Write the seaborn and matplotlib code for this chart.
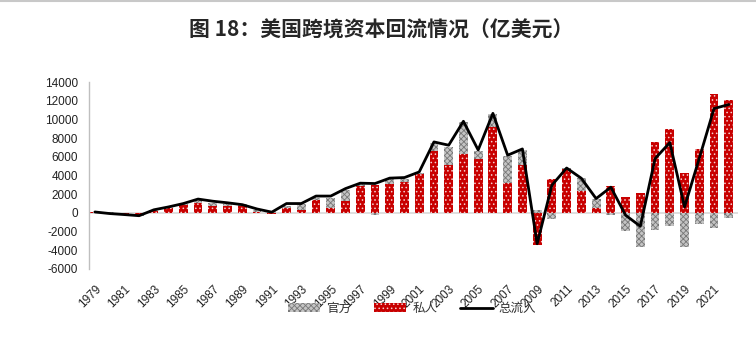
import numpy as np
import pandas as pd
import matplotlib
matplotlib.use("Agg")
import matplotlib.pyplot as plt
from matplotlib.lines import Line2D
import seaborn as sns

years = list(range(1979, 2023))
private = [50, -150, -100, -250, 250, 500, 800, 1100, 700, 700, 700, 50, -100, 550,
           300, 1430, 570, 1250, 2920, 2960, 3140, 3320, 4210, 6630, 5170, 6350, 5780,
           9200, 3210, 5170, -3460, 3600, 4650, 2350, 500, 2850, 1710, 2170, 7560,
           8930, 4280, 6790, 12690, 12050]
official = [50, 60, -50, -50, 50, 80, 150, 250, 400, 300, 200, 250, 150, 200,
            600, 200, 1070, 1250, 150, -250, 460, 300, 50, 860, 1890, 3390, 860,
            1430, 2850, 1600, 290, -610, 200, 1350, 960, -180, -1960, -3640, -1780,
            -1350, -3640, -1200, -1600, -530]
total = [100, -70, -180, -300, 330, 640, 1000, 1480, 1250, 1080, 880, 420, 80, 1000,
         1000, 1800, 1800, 2600, 3180, 3140, 3720, 3780, 4380, 7590, 7240, 9800, 6730,
         10650, 6170, 6840, -3300, 2960, 4800, 3700, 1530, 2750, -250, -1430, 5810,
         7520, 640, 5850, 11160, 11590]

labels = ["官方", "私人", "总流入"]
title = "图 18：美国跨境资本回流情况（亿美元）"

sns.set_theme(style="white")
plt.rcParams['font.family'] = ['Liberation Sans', 'Noto Sans CJK SC', 'DejaVu Sans']
plt.rcParams['hatch.linewidth'] = 0.6

p = np.array(private, dtype=float)
o = np.array(official, dtype=float)
# official bar stacked on private when same sign
gray_h = np.where(np.sign(p) == np.sign(o), p + o, o)

df = pd.DataFrame({"year": [str(y) for y in years], "private": p,
                   "gray": gray_h, "total": total})
order = df["year"].tolist()

fig = plt.figure(figsize=(7.56, 3.39), dpi=100)
ax = fig.add_axes([0.1177, 0.2065, 0.858, 0.5516])

ax.axhline(0, color="#d9d9d9", lw=1.2, zorder=0)

sns.barplot(data=df, x="year", y="gray", order=order, ax=ax, color="#c4c4c4",
            saturation=1, width=0.6, edgecolor="#777777", linewidth=0,
            hatch="xxxxxx", label=labels[0], zorder=2)
sns.barplot(data=df, x="year", y="private", order=order, ax=ax, color="#c80000",
            saturation=1, width=0.6, edgecolor="#f4d0d0", linewidth=0,
            hatch="....", label=labels[1], zorder=3)
sns.lineplot(x=np.arange(len(years)), y=df["total"], ax=ax, color="black",
             lw=2.0, label=labels[2], zorder=4)

ax.set_xlim(-0.4, len(years) - 0.4)
ax.set_ylim(-6000, 14000)
ax.set_yticks(np.arange(-6000, 14001, 2000))
ax.set_yticklabels([str(v) for v in range(-6000, 14001, 2000)], fontsize=8.5, color="#222222")
ax.set_xticks(np.arange(0, len(years), 2))
ax.set_xticklabels([str(y) for y in years[::2]], rotation=45, ha="right",
                   rotation_mode="anchor", fontsize=8.5, color="#222222")
ax.tick_params(axis="both", length=0)
ax.tick_params(axis="x", pad=10)
ax.tick_params(axis="y", pad=8)
ax.set_xlabel("")
ax.set_ylabel("")
for s in ["top", "right", "bottom"]:
    ax.spines[s].set_visible(False)
ax.spines["left"].set_color("#bfbfbf")
ax.spines["left"].set_linewidth(1.0)

handles, labs = ax.get_legend_handles_labels()
hmap = dict(zip(labs, handles))
leg = ax.legend([hmap[l] for l in labels], labels, loc="center",
                bbox_to_anchor=(0.545, 0.09),
                bbox_transform=fig.transFigure, ncol=3, frameon=False,
                prop={"family": ["Noto Sans CJK SC"], "size": 9},
                handlelength=2.6, handleheight=0.7, handletextpad=0.5,
                columnspacing=1.8)
for t in leg.get_texts():
    t.set_color("#333333")

fig.text(0.504, 0.91, title, ha="center", va="center", fontsize=15,
         fontweight="bold", family=["Noto Sans CJK SC"])
fig.add_artist(Line2D([0, 1], [0.997, 0.997], color="#c8c8c8", lw=1.5,
                      transform=fig.transFigure))

fig.savefig("out.png", dpi=100)
